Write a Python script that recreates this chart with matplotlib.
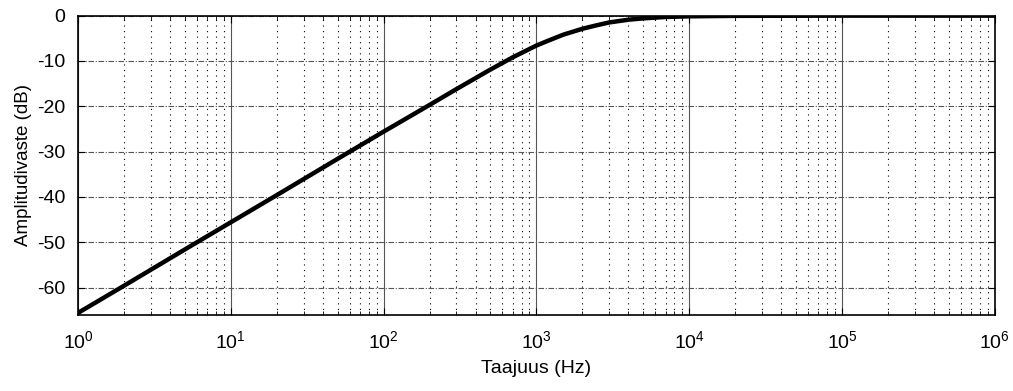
import matplotlib
matplotlib.use("Agg")
import matplotlib.pyplot as plt
from matplotlib.ticker import LogLocator, FixedLocator, NullFormatter

plt.rcParams["font.family"] = ["Liberation Sans", "DejaVu Sans"]
plt.rcParams["axes.unicode_minus"] = False

# values
freq_hz = [1, 2, 5, 10, 20, 50, 100, 200, 300, 500, 700, 1000, 1200, 1500,
           2000, 2500, 3000, 4000, 5000, 7000, 1e4, 2e4, 1e5, 1e6]
ampl_db = [-65.6, -59.6, -51.6, -45.6, -39.6, -31.6, -25.6, -19.7, -16.2,
           -11.9, -9.2, -6.6, -5.5, -4.2, -2.9, -2.1, -1.5, -0.9, -0.6,
           -0.3, -0.15, -0.05, 0.0, 0.0]
y_ticks = [0, -10, -20, -30, -40, -50, -60]

fig = plt.figure(figsize=(10.13, 3.91), dpi=100)
ax = fig.add_axes([0.077, 0.195, 0.905, 0.765])

ax.semilogx(freq_hz, ampl_db, color="black", linewidth=3.2, zorder=3)

ax.set_xlim(1, 1e6)
ax.set_ylim(-66, 0)
ax.xaxis.set_major_locator(LogLocator(base=10, numticks=10))
ax.xaxis.set_minor_locator(LogLocator(base=10, subs=range(2, 10), numticks=100))
ax.xaxis.set_minor_formatter(NullFormatter())
ax.yaxis.set_major_locator(FixedLocator(y_ticks))

ax.grid(True, which="major", axis="x", color="#555555", linewidth=0.8, linestyle="-")
ax.grid(True, which="major", axis="y", color="#555555", linewidth=0.8,
        linestyle=(0, (5, 1.5, 1, 1.5)))
ax.grid(True, which="minor", axis="x", color="black", linewidth=0.8,
        linestyle=(0, (1, 4)))

ax.tick_params(which="both", direction="in", top=True, right=True,
               labelsize=14)
ax.tick_params(which="major", length=5)
ax.tick_params(which="minor", length=3)
ax.tick_params(axis="x", which="major", pad=11)
ax.tick_params(axis="y", which="major", pad=9)
for s in ax.spines.values():
    s.set_linewidth(1.2)

ax.set_xlabel("Taajuus (Hz)", fontsize=14, labelpad=6)
ax.set_ylabel("Amplitudivaste (dB)", fontsize=13.5, labelpad=4)

fig.savefig("out.png", dpi=100)
